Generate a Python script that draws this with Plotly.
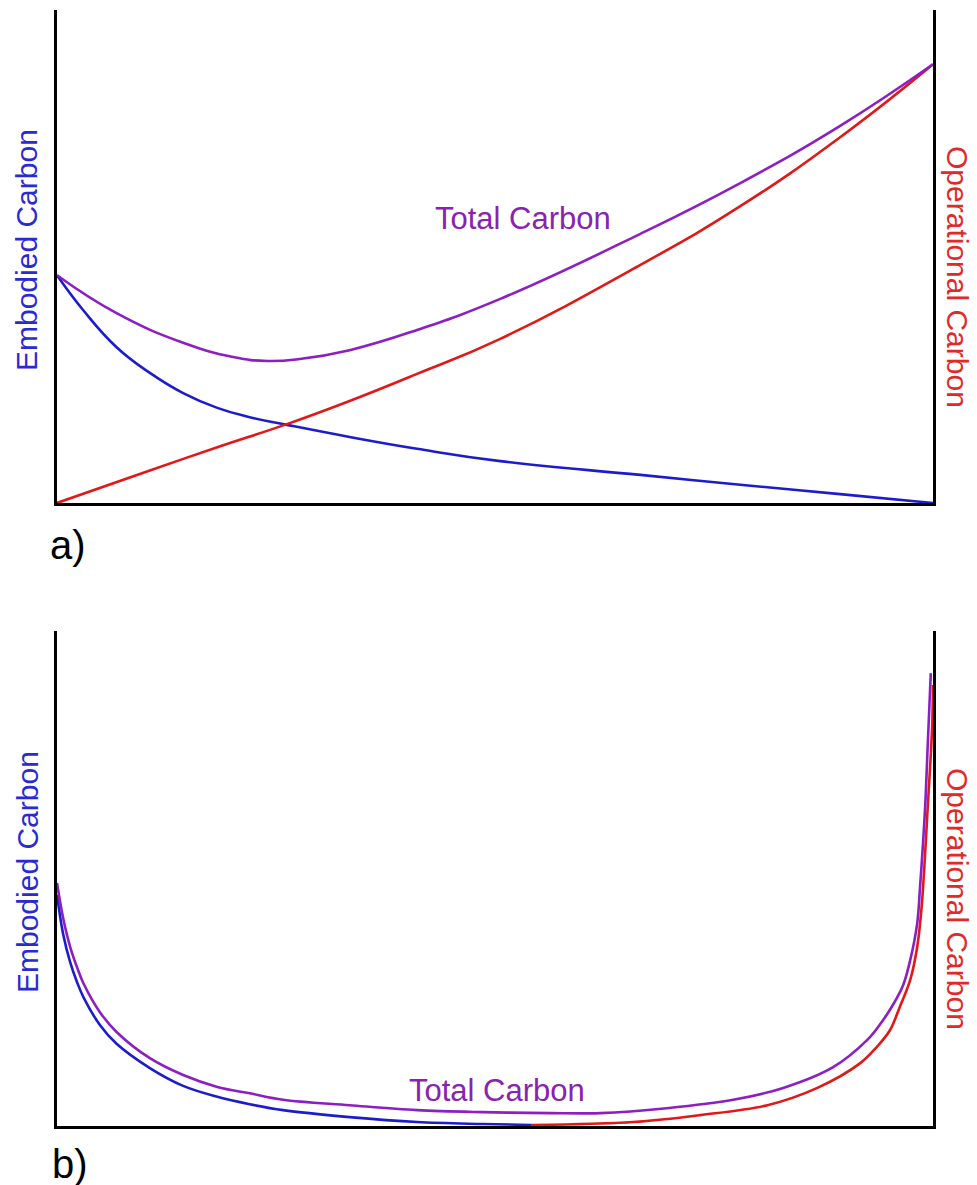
import plotly.graph_objects as go

# ---------- Panel a (x: % of life span, y: % of panel height) ----------
a_embodied_x = [0, 3.0, 6.8, 10.6, 14.4, 18.3, 22.0, 26.4, 33.4, 41.1, 50.6, 66.6, 78.0, 89.4, 100]
a_embodied_y = [46.2, 39.1, 31.6, 26.4, 22.3, 19.3, 17.4, 15.8, 13.4, 11.0, 8.5, 5.7, 3.7, 1.8, 0.0]

a_operational_x = [0, 10.6, 18.3, 26.4, 33.4, 41.1, 50.6, 66.6, 78.0, 89.4, 100]
a_operational_y = [0.0, 6.6, 11.3, 16.1, 20.7, 26.2, 33.3, 48.3, 60.2, 74.2, 89.0]

a_total_x = [0, 6.8, 14.4, 20.1, 24.0, 27.7, 33.4, 41.1, 50.6, 66.6, 78.0, 89.4, 100]
a_total_y = [46.2, 38.5, 32.5, 29.6, 28.8, 29.2, 31.0, 35.1, 41.4, 54.6, 64.9, 76.5, 89.0]

# ---------- Panel b ----------
b_embodied_x = [0, 0.7, 1.5, 2.3, 3.0, 4.9, 6.8, 10.6, 14.4, 18.3, 22.0, 25.8, 33.4, 41.1, 48.6, 54.2]
b_embodied_y = [46.7, 38.8, 33.1, 29.0, 26.1, 20.4, 16.6, 11.7, 8.1, 5.9, 4.4, 3.2, 1.8, 0.8, 0.4, 0.2]

b_operational_x = [54.2, 65.8, 73.4, 81.1, 86.8, 91.7, 93.6, 95.1, 96.2, 97.4, 98.2, 98.7, 99.4, 99.9, 100]
b_operational_y = [0.2, 0.8, 2.2, 4.2, 7.7, 12.7, 16.0, 19.4, 24.0, 29.5, 36.2, 44.2, 64.4, 80.5, 89.1]

b_total_x = [0, 0.7, 1.5, 2.3, 3.0, 4.9, 6.8, 10.6, 14.4, 18.3, 22.0, 25.8, 33.4, 41.1, 48.6,
             56.3, 62.0, 69.6, 77.2, 82.9, 88.6, 92.5, 93.9, 95.4, 96.6, 97.4, 98.2, 98.5, 99.1,
             99.4, 99.75]
b_total_y = [49.1, 42.0, 36.2, 32.0, 28.9, 23.0, 19.0, 13.7, 10.3, 7.9, 6.6, 5.3, 4.2, 3.2, 2.8,
             2.6, 2.6, 3.6, 5.3, 7.7, 11.9, 17.4, 20.4, 24.4, 28.5, 33.5, 41.0, 47.7, 64.4,
             77.0, 91.5]

# ---------- Text ----------
label_embodied = "Embodied Carbon"
label_operational = "Operational Carbon"
label_total = "Total Carbon"
panel_labels = ["a)", "b)"]

BLUE = "#1c1ccc"
RED = "#e01818"
PURPLE = "#8c1ec4"
TXT_BLUE = "#2a2ad2"
TXT_RED = "#e02a2a"
TXT_PURPLE = "#8a22b0"
FONT = "Liberation Sans, Arial, sans-serif"

W, H = 977, 1185

fig = go.Figure()

def line(x, y, color, xa, ya, smooth):
    fig.add_trace(go.Scatter(x=x, y=y, mode="lines",
                             line=dict(color=color, width=2.6, shape="spline", smoothing=smooth),
                             xaxis=xa, yaxis=ya, showlegend=False, hoverinfo="skip",
                             cliponaxis=False))

line(a_embodied_x, a_embodied_y, BLUE, "x", "y", 1.3)
line(a_operational_x, a_operational_y, RED, "x", "y", 1.3)
line(a_total_x, a_total_y, PURPLE, "x", "y", 1.3)

line(b_embodied_x, b_embodied_y, BLUE, "x2", "y2", 1.0)
line(b_operational_x, b_operational_y, RED, "x2", "y2", 1.0)
line(b_total_x, b_total_y, PURPLE, "x2", "y2", 1.0)

x_dom = [57 / W, 933 / W]
ya_dom = [(H - 503) / H, (H - 10) / H]
yb_dom = [(H - 1126) / H, (H - 631) / H]

ax_common = dict(showline=True, linecolor="black", linewidth=3, showgrid=False,
                 zeroline=False, showticklabels=False, ticks="", layer="below traces",
                 fixedrange=True)

fig.update_layout(
    width=W, height=H,
    margin=dict(l=0, r=0, t=0, b=0),
    paper_bgcolor="white", plot_bgcolor="white",
    xaxis=dict(domain=x_dom, range=[0, 100], anchor="y", mirror=False, **ax_common),
    yaxis=dict(domain=ya_dom, range=[0, 100], anchor="x", mirror=True, **ax_common),
    xaxis2=dict(domain=x_dom, range=[0, 100], anchor="y2", mirror=False, **ax_common),
    yaxis2=dict(domain=yb_dom, range=[0, 100], anchor="x2", mirror=True, **ax_common),
)

def ann(text, px, py, size, color, angle=0):
    fig.add_annotation(text=text, x=px / W, y=(H - py) / H, xref="paper", yref="paper",
                       xanchor="center", yanchor="middle", showarrow=False, textangle=angle,
                       font=dict(family=FONT, size=size, color=color))

ann(label_embodied, 27, 250, 30, TXT_BLUE, -90)
ann(label_embodied, 27, 872, 30, TXT_BLUE, -90)
ann(label_operational, 958, 277, 30, TXT_RED, 90)
ann(label_operational, 958, 899, 30, TXT_RED, 90)
ann(label_total, 523, 219, 31, TXT_PURPLE)
ann(label_total, 497, 1090, 31, TXT_PURPLE)
ann(panel_labels[0], 68, 545, 40, "black")
ann(panel_labels[1], 70, 1164, 40, "black")

fig.write_html("out.html", config={"displayModeBar": False},
               post_script="document.body.style.margin='0';document.body.style.overflow='hidden';")
